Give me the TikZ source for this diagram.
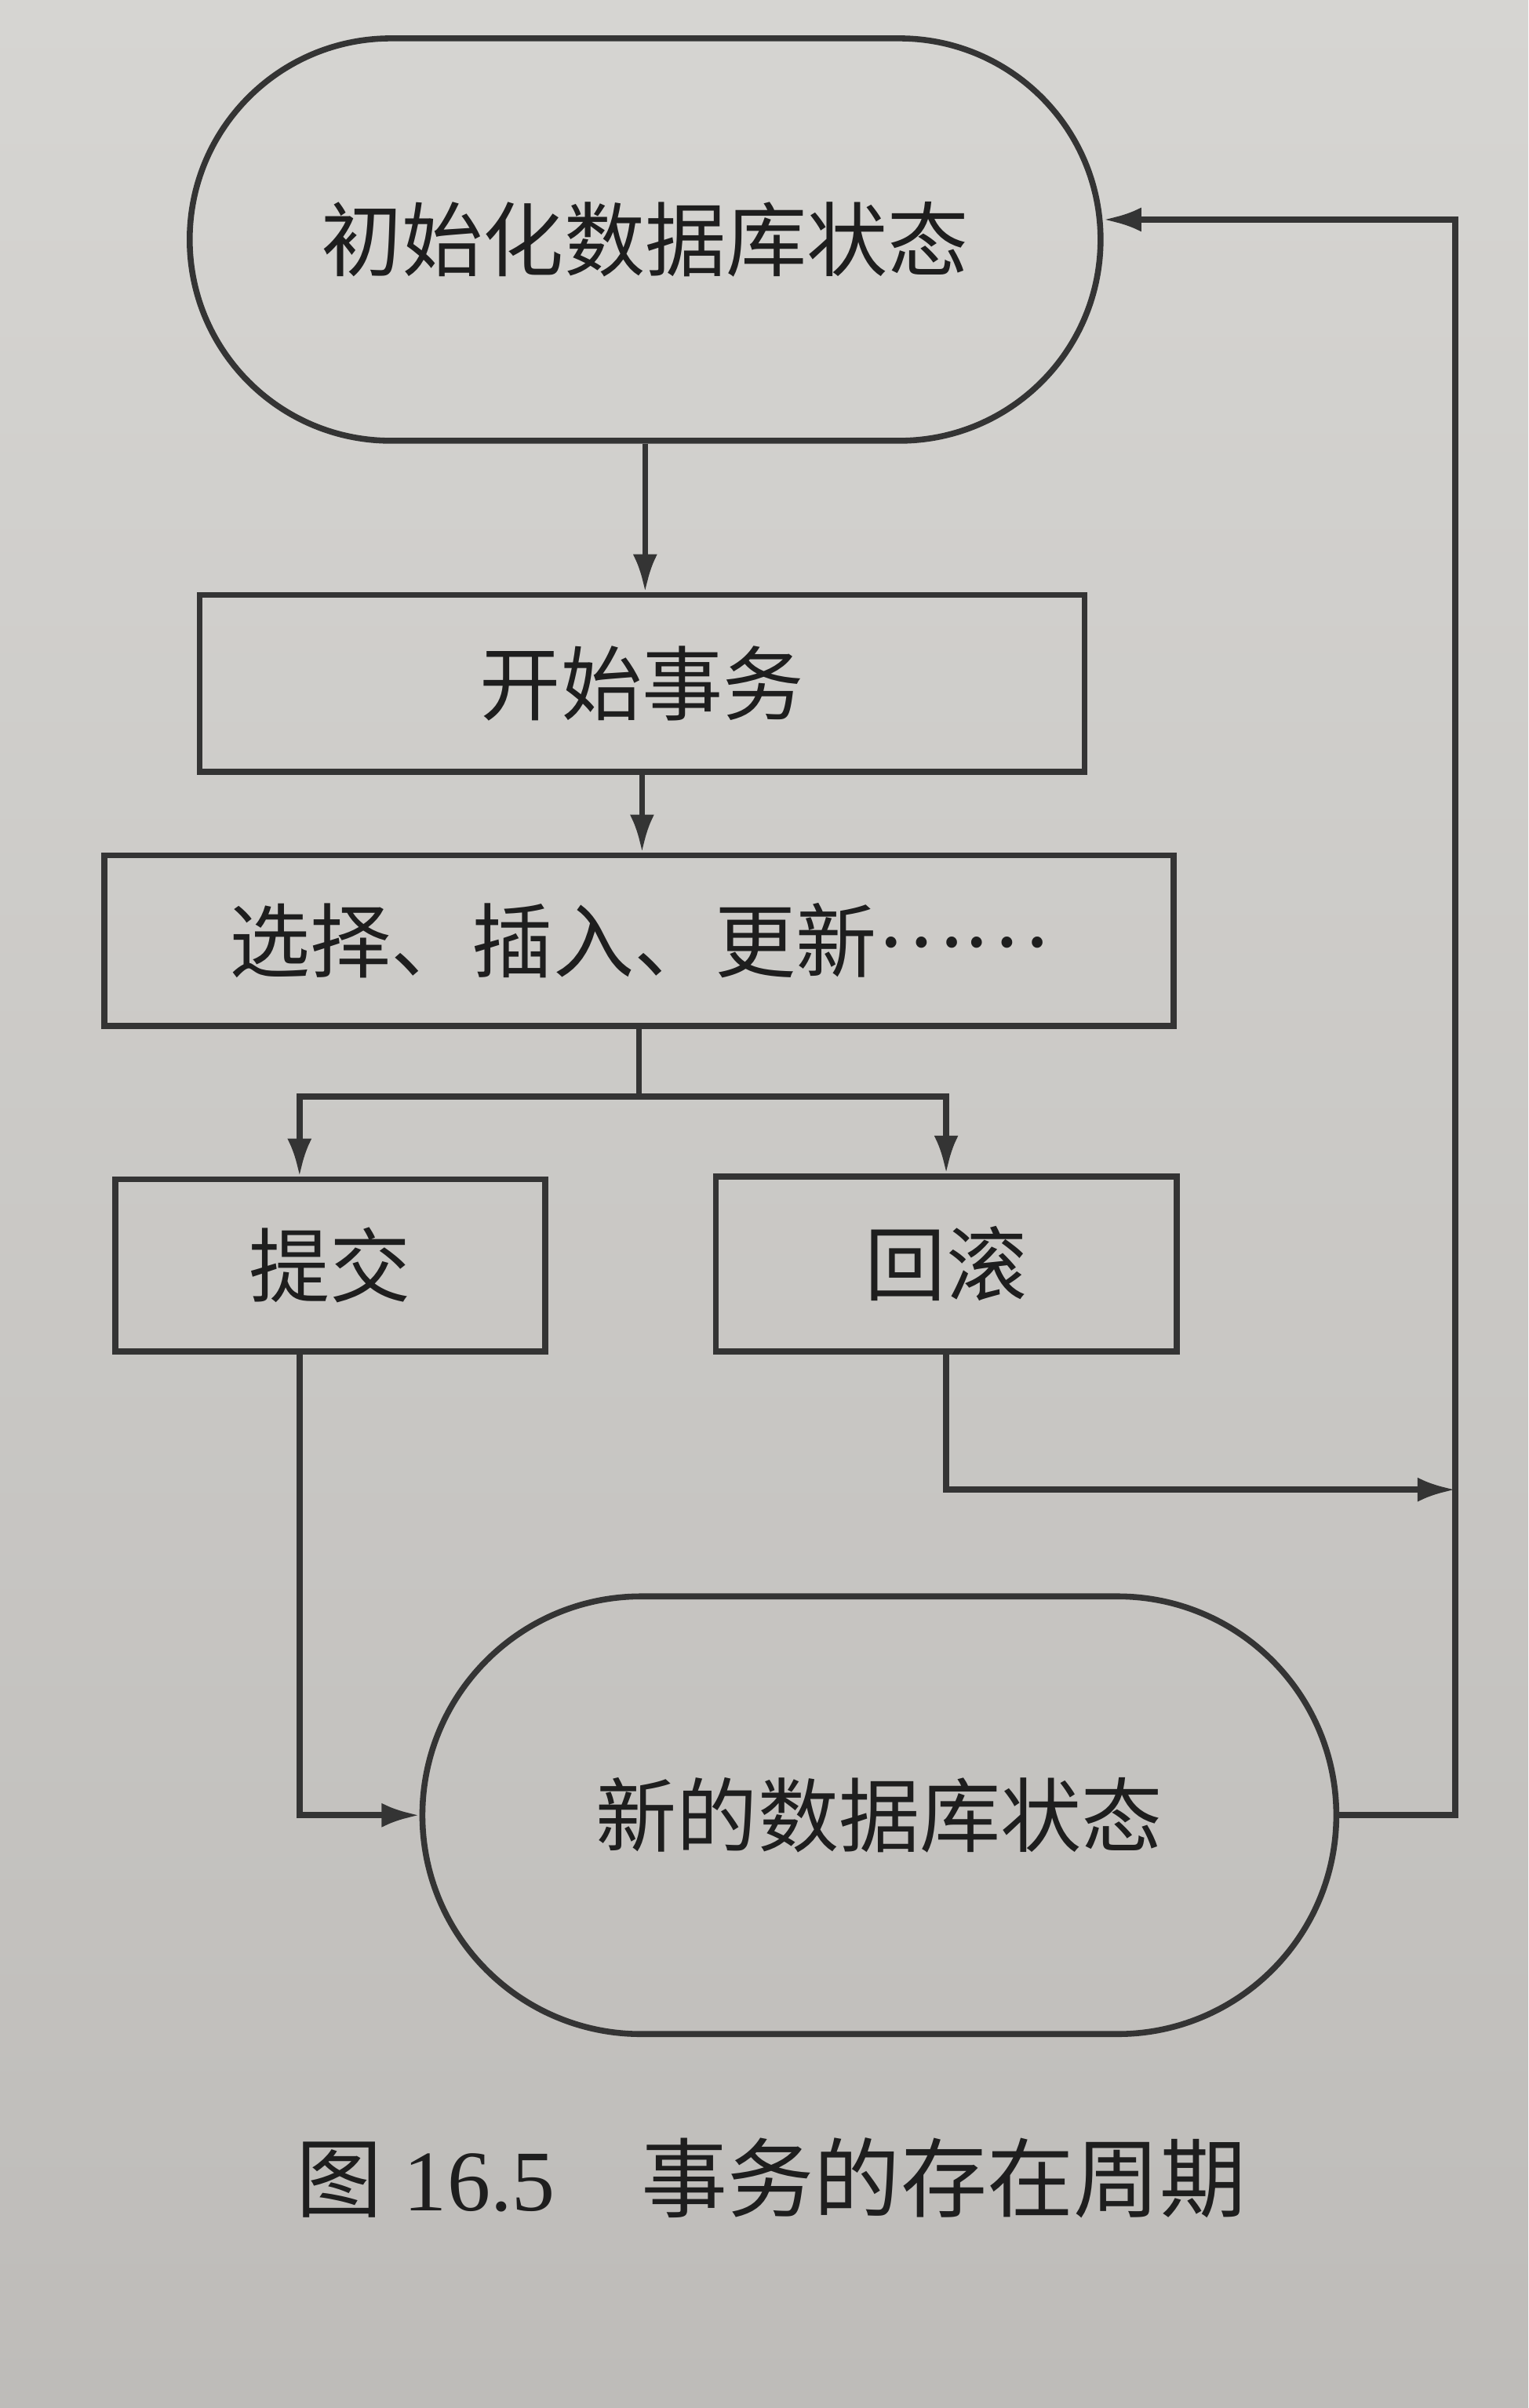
\documentclass[tikz,border=0pt]{standalone}
\usepackage{fontspec}
\setmainfont{Liberation Serif}
\newfontfamily\cjk{Noto Sans CJK SC}
\usepackage{xcolor}
\usepackage{tikz}
\usetikzlibrary{calc, shapes.misc, arrows.meta, positioning}

\definecolor{papertop}{RGB}{214,213,210}
\definecolor{paperbot}{RGB}{190,188,185}
\definecolor{ink}{RGB}{52,52,52}
\definecolor{textink}{RGB}{30,30,30}

\begin{document}
\begin{tikzpicture}[>={Latex[length=14pt,width=9pt]}, line width=2.2pt,
    box/.style={draw=ink, rectangle, inner sep=0pt},
    state/.style={draw=ink, rounded rectangle, inner sep=0pt},
    lbl/.style={font=\cjk\fontsize{30}{36}\selectfont, text=textink}]
    % 0. Nền giấy
    \fill[top color=papertop, bottom color=paperbot, draw=none] (0,0) rectangle (19.9,-31.36);
    \useasboundingbox (0,0) rectangle (19.9,-31.36);

    % 1. Hai trạng thái cơ sở dữ liệu
    \node[state, lbl, minimum width=11.86cm, minimum height=5.24cm] (init) at (8.4,-3.12) {初始化数据库状态};
    \node[state, lbl, minimum width=11.9cm, minimum height=5.7cm] (newstate) at (11.45,-23.64) {新的数据库状态};

    % 2. Các bước của giao dịch
    \node[box, lbl, minimum width=11.52cm, minimum height=2.3cm] (begin) at (8.36,-8.9) {开始事务};
    \node[box, lbl, minimum width=13.92cm, minimum height=2.22cm] (select) at (8.32,-12.25) {选择、插入、更新\raisebox{0.3em}{……}};
    \node[box, lbl, minimum width=5.6cm, minimum height=2.24cm] (commit) at (4.3,-16.48) {提交};
    \node[box, lbl, minimum width=6.0cm, minimum height=2.28cm] (rollback) at (12.32,-16.46) {回滚};

    % 3. Mũi tên
    \draw[->, ink] (init.south) -- (init.south |- begin.north);
    \draw[->, ink] (begin.south) -- (begin.south |- select.north);
    \draw[ink] (select.south) -- ++(0,-0.88) coordinate (fork);
    \draw[->, ink] (fork) -| ([xshift=-0.4cm]commit.north);
    \draw[->, ink] (fork) -| (rollback.north);
    \coordinate (join) at (18.95,-19.4);
    \draw[->, ink] (rollback.south) |- (join);
    \draw[->, ink] ([xshift=-0.4cm]commit.south) |- (newstate.west);
    \draw[->, ink] (newstate.east) -| (join) |- ([yshift=0.26cm]init.east);

    % 4. Chú thích hình
    \node[font=\fontsize{32}{38}\selectfont, text=textink] (caption) at (10.04,-28.36) {{\cjk 图} 16.5\hspace{1em}{\cjk 事务的存在周期}};

\end{tikzpicture}
\end{document}
